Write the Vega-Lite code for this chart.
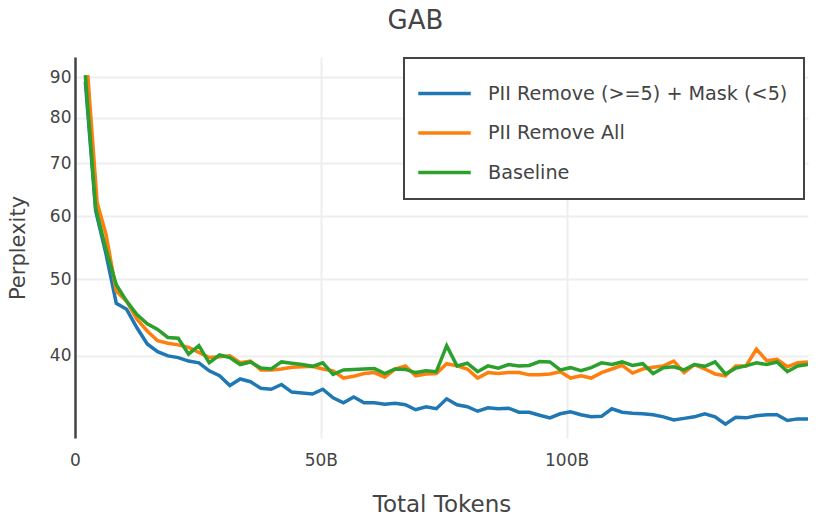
{
  "$schema": "https://vega.github.io/schema/vega-lite/v6.json",
  "autosize": {"type": "none"},
  "padding": {"left": 75, "top": 57, "right": 22, "bottom": 82},
  "width": 733,
  "height": 381,
  "background": "white",
  "title": {"text": "GAB", "fontSize": 26, "font": "DejaVu Sans", "fontWeight": "normal", "color": "#444", "frame": "group", "anchor": "middle", "dx": -26, "offset": 23},
  "data": {"values": [
    {"series": "PII Remove (>=5) + Mask (<5)", "tokens": 2.1, "ppl": 88.8},
    {"series": "PII Remove (>=5) + Mask (<5)", "tokens": 4.2, "ppl": 61.0},
    {"series": "PII Remove (>=5) + Mask (<5)", "tokens": 6.3, "ppl": 53.8},
    {"series": "PII Remove (>=5) + Mask (<5)", "tokens": 8.4, "ppl": 46.6},
    {"series": "PII Remove (>=5) + Mask (<5)", "tokens": 10.5, "ppl": 45.8},
    {"series": "PII Remove (>=5) + Mask (<5)", "tokens": 12.6, "ppl": 43.4},
    {"series": "PII Remove (>=5) + Mask (<5)", "tokens": 14.7, "ppl": 41.4},
    {"series": "PII Remove (>=5) + Mask (<5)", "tokens": 16.8, "ppl": 40.5},
    {"series": "PII Remove (>=5) + Mask (<5)", "tokens": 18.9, "ppl": 40.0},
    {"series": "PII Remove (>=5) + Mask (<5)", "tokens": 21.0, "ppl": 39.8},
    {"series": "PII Remove (>=5) + Mask (<5)", "tokens": 23.1, "ppl": 39.4},
    {"series": "PII Remove (>=5) + Mask (<5)", "tokens": 25.2, "ppl": 39.2},
    {"series": "PII Remove (>=5) + Mask (<5)", "tokens": 27.3, "ppl": 38.3},
    {"series": "PII Remove (>=5) + Mask (<5)", "tokens": 29.4, "ppl": 37.75},
    {"series": "PII Remove (>=5) + Mask (<5)", "tokens": 31.5, "ppl": 36.7},
    {"series": "PII Remove (>=5) + Mask (<5)", "tokens": 33.6, "ppl": 37.4},
    {"series": "PII Remove (>=5) + Mask (<5)", "tokens": 35.7, "ppl": 37.1},
    {"series": "PII Remove (>=5) + Mask (<5)", "tokens": 37.8, "ppl": 36.4},
    {"series": "PII Remove (>=5) + Mask (<5)", "tokens": 39.9, "ppl": 36.3},
    {"series": "PII Remove (>=5) + Mask (<5)", "tokens": 42.0, "ppl": 36.8},
    {"series": "PII Remove (>=5) + Mask (<5)", "tokens": 44.1, "ppl": 36.0},
    {"series": "PII Remove (>=5) + Mask (<5)", "tokens": 46.2, "ppl": 35.9},
    {"series": "PII Remove (>=5) + Mask (<5)", "tokens": 48.3, "ppl": 35.8},
    {"series": "PII Remove (>=5) + Mask (<5)", "tokens": 50.4, "ppl": 36.3},
    {"series": "PII Remove (>=5) + Mask (<5)", "tokens": 52.5, "ppl": 35.4},
    {"series": "PII Remove (>=5) + Mask (<5)", "tokens": 54.6, "ppl": 34.9},
    {"series": "PII Remove (>=5) + Mask (<5)", "tokens": 56.7, "ppl": 35.5},
    {"series": "PII Remove (>=5) + Mask (<5)", "tokens": 58.8, "ppl": 34.9},
    {"series": "PII Remove (>=5) + Mask (<5)", "tokens": 60.9, "ppl": 34.9},
    {"series": "PII Remove (>=5) + Mask (<5)", "tokens": 63.0, "ppl": 34.75},
    {"series": "PII Remove (>=5) + Mask (<5)", "tokens": 65.1, "ppl": 34.85},
    {"series": "PII Remove (>=5) + Mask (<5)", "tokens": 67.2, "ppl": 34.7},
    {"series": "PII Remove (>=5) + Mask (<5)", "tokens": 69.3, "ppl": 34.2},
    {"series": "PII Remove (>=5) + Mask (<5)", "tokens": 71.4, "ppl": 34.5},
    {"series": "PII Remove (>=5) + Mask (<5)", "tokens": 73.5, "ppl": 34.3},
    {"series": "PII Remove (>=5) + Mask (<5)", "tokens": 75.6, "ppl": 35.3},
    {"series": "PII Remove (>=5) + Mask (<5)", "tokens": 77.7, "ppl": 34.7},
    {"series": "PII Remove (>=5) + Mask (<5)", "tokens": 79.8, "ppl": 34.5},
    {"series": "PII Remove (>=5) + Mask (<5)", "tokens": 81.9, "ppl": 34.05},
    {"series": "PII Remove (>=5) + Mask (<5)", "tokens": 84.0, "ppl": 34.4},
    {"series": "PII Remove (>=5) + Mask (<5)", "tokens": 86.1, "ppl": 34.3},
    {"series": "PII Remove (>=5) + Mask (<5)", "tokens": 88.2, "ppl": 34.35},
    {"series": "PII Remove (>=5) + Mask (<5)", "tokens": 90.3, "ppl": 33.95},
    {"series": "PII Remove (>=5) + Mask (<5)", "tokens": 92.4, "ppl": 33.95},
    {"series": "PII Remove (>=5) + Mask (<5)", "tokens": 94.5, "ppl": 33.65},
    {"series": "PII Remove (>=5) + Mask (<5)", "tokens": 96.6, "ppl": 33.4},
    {"series": "PII Remove (>=5) + Mask (<5)", "tokens": 98.7, "ppl": 33.8},
    {"series": "PII Remove (>=5) + Mask (<5)", "tokens": 100.8, "ppl": 34.0},
    {"series": "PII Remove (>=5) + Mask (<5)", "tokens": 102.9, "ppl": 33.7},
    {"series": "PII Remove (>=5) + Mask (<5)", "tokens": 105.0, "ppl": 33.5},
    {"series": "PII Remove (>=5) + Mask (<5)", "tokens": 107.1, "ppl": 33.55},
    {"series": "PII Remove (>=5) + Mask (<5)", "tokens": 109.2, "ppl": 34.3},
    {"series": "PII Remove (>=5) + Mask (<5)", "tokens": 111.3, "ppl": 33.95},
    {"series": "PII Remove (>=5) + Mask (<5)", "tokens": 113.4, "ppl": 33.85},
    {"series": "PII Remove (>=5) + Mask (<5)", "tokens": 115.5, "ppl": 33.8},
    {"series": "PII Remove (>=5) + Mask (<5)", "tokens": 117.6, "ppl": 33.7},
    {"series": "PII Remove (>=5) + Mask (<5)", "tokens": 119.7, "ppl": 33.5},
    {"series": "PII Remove (>=5) + Mask (<5)", "tokens": 121.8, "ppl": 33.2},
    {"series": "PII Remove (>=5) + Mask (<5)", "tokens": 123.9, "ppl": 33.35},
    {"series": "PII Remove (>=5) + Mask (<5)", "tokens": 126.0, "ppl": 33.5},
    {"series": "PII Remove (>=5) + Mask (<5)", "tokens": 128.1, "ppl": 33.8},
    {"series": "PII Remove (>=5) + Mask (<5)", "tokens": 130.2, "ppl": 33.5},
    {"series": "PII Remove (>=5) + Mask (<5)", "tokens": 132.3, "ppl": 32.8},
    {"series": "PII Remove (>=5) + Mask (<5)", "tokens": 134.4, "ppl": 33.45},
    {"series": "PII Remove (>=5) + Mask (<5)", "tokens": 136.5, "ppl": 33.4},
    {"series": "PII Remove (>=5) + Mask (<5)", "tokens": 138.6, "ppl": 33.6},
    {"series": "PII Remove (>=5) + Mask (<5)", "tokens": 140.7, "ppl": 33.7},
    {"series": "PII Remove (>=5) + Mask (<5)", "tokens": 142.8, "ppl": 33.7},
    {"series": "PII Remove (>=5) + Mask (<5)", "tokens": 144.9, "ppl": 33.15},
    {"series": "PII Remove (>=5) + Mask (<5)", "tokens": 147.0, "ppl": 33.3},
    {"series": "PII Remove (>=5) + Mask (<5)", "tokens": 149.1, "ppl": 33.3},
    {"series": "PII Remove All", "tokens": 2.6, "ppl": 90.5},
    {"series": "PII Remove All", "tokens": 4.5, "ppl": 62.5},
    {"series": "PII Remove All", "tokens": 6.3, "ppl": 57.0},
    {"series": "PII Remove All", "tokens": 8.4, "ppl": 48.3},
    {"series": "PII Remove All", "tokens": 10.5, "ppl": 46.9},
    {"series": "PII Remove All", "tokens": 12.6, "ppl": 44.5},
    {"series": "PII Remove All", "tokens": 14.7, "ppl": 43.0},
    {"series": "PII Remove All", "tokens": 16.8, "ppl": 41.8},
    {"series": "PII Remove All", "tokens": 18.9, "ppl": 41.5},
    {"series": "PII Remove All", "tokens": 21.0, "ppl": 41.3},
    {"series": "PII Remove All", "tokens": 23.1, "ppl": 41.0},
    {"series": "PII Remove All", "tokens": 25.2, "ppl": 40.4},
    {"series": "PII Remove All", "tokens": 27.3, "ppl": 39.8},
    {"series": "PII Remove All", "tokens": 29.4, "ppl": 39.9},
    {"series": "PII Remove All", "tokens": 31.5, "ppl": 40.0},
    {"series": "PII Remove All", "tokens": 33.6, "ppl": 39.2},
    {"series": "PII Remove All", "tokens": 35.7, "ppl": 39.4},
    {"series": "PII Remove All", "tokens": 37.8, "ppl": 38.4},
    {"series": "PII Remove All", "tokens": 39.9, "ppl": 38.4},
    {"series": "PII Remove All", "tokens": 42.0, "ppl": 38.5},
    {"series": "PII Remove All", "tokens": 44.1, "ppl": 38.7},
    {"series": "PII Remove All", "tokens": 46.2, "ppl": 38.75},
    {"series": "PII Remove All", "tokens": 48.3, "ppl": 38.8},
    {"series": "PII Remove All", "tokens": 50.4, "ppl": 38.5},
    {"series": "PII Remove All", "tokens": 52.5, "ppl": 38.3},
    {"series": "PII Remove All", "tokens": 54.6, "ppl": 37.5},
    {"series": "PII Remove All", "tokens": 56.7, "ppl": 37.7},
    {"series": "PII Remove All", "tokens": 58.8, "ppl": 38.0},
    {"series": "PII Remove All", "tokens": 60.9, "ppl": 38.1},
    {"series": "PII Remove All", "tokens": 63.0, "ppl": 37.6},
    {"series": "PII Remove All", "tokens": 65.1, "ppl": 38.5},
    {"series": "PII Remove All", "tokens": 67.2, "ppl": 38.85},
    {"series": "PII Remove All", "tokens": 69.3, "ppl": 37.75},
    {"series": "PII Remove All", "tokens": 71.4, "ppl": 37.95},
    {"series": "PII Remove All", "tokens": 73.5, "ppl": 38.0},
    {"series": "PII Remove All", "tokens": 75.6, "ppl": 39.1},
    {"series": "PII Remove All", "tokens": 77.7, "ppl": 38.85},
    {"series": "PII Remove All", "tokens": 79.8, "ppl": 38.5},
    {"series": "PII Remove All", "tokens": 81.9, "ppl": 37.5},
    {"series": "PII Remove All", "tokens": 84.0, "ppl": 38.1},
    {"series": "PII Remove All", "tokens": 86.1, "ppl": 38.0},
    {"series": "PII Remove All", "tokens": 88.2, "ppl": 38.1},
    {"series": "PII Remove All", "tokens": 90.3, "ppl": 38.1},
    {"series": "PII Remove All", "tokens": 92.4, "ppl": 37.85},
    {"series": "PII Remove All", "tokens": 94.5, "ppl": 37.85},
    {"series": "PII Remove All", "tokens": 96.6, "ppl": 37.95},
    {"series": "PII Remove All", "tokens": 98.7, "ppl": 38.2},
    {"series": "PII Remove All", "tokens": 100.8, "ppl": 37.5},
    {"series": "PII Remove All", "tokens": 102.9, "ppl": 37.75},
    {"series": "PII Remove All", "tokens": 105.0, "ppl": 37.5},
    {"series": "PII Remove All", "tokens": 107.1, "ppl": 38.1},
    {"series": "PII Remove All", "tokens": 109.2, "ppl": 38.5},
    {"series": "PII Remove All", "tokens": 111.3, "ppl": 38.9},
    {"series": "PII Remove All", "tokens": 113.4, "ppl": 38.05},
    {"series": "PII Remove All", "tokens": 115.5, "ppl": 38.5},
    {"series": "PII Remove All", "tokens": 117.6, "ppl": 38.7},
    {"series": "PII Remove All", "tokens": 119.7, "ppl": 38.85},
    {"series": "PII Remove All", "tokens": 121.8, "ppl": 39.4},
    {"series": "PII Remove All", "tokens": 123.9, "ppl": 38.1},
    {"series": "PII Remove All", "tokens": 126.0, "ppl": 39.0},
    {"series": "PII Remove All", "tokens": 128.1, "ppl": 38.5},
    {"series": "PII Remove All", "tokens": 130.2, "ppl": 37.95},
    {"series": "PII Remove All", "tokens": 132.3, "ppl": 37.75},
    {"series": "PII Remove All", "tokens": 134.4, "ppl": 38.85},
    {"series": "PII Remove All", "tokens": 136.5, "ppl": 38.85},
    {"series": "PII Remove All", "tokens": 138.6, "ppl": 40.8},
    {"series": "PII Remove All", "tokens": 140.7, "ppl": 39.45},
    {"series": "PII Remove All", "tokens": 142.8, "ppl": 39.6},
    {"series": "PII Remove All", "tokens": 144.9, "ppl": 38.75},
    {"series": "PII Remove All", "tokens": 147.0, "ppl": 39.2},
    {"series": "PII Remove All", "tokens": 149.1, "ppl": 39.3},
    {"series": "Baseline", "tokens": 2.1, "ppl": 90.5},
    {"series": "Baseline", "tokens": 4.2, "ppl": 61.5},
    {"series": "Baseline", "tokens": 6.3, "ppl": 54.5},
    {"series": "Baseline", "tokens": 8.4, "ppl": 49.2},
    {"series": "Baseline", "tokens": 10.5, "ppl": 46.9},
    {"series": "Baseline", "tokens": 12.6, "ppl": 45.1},
    {"series": "Baseline", "tokens": 14.7, "ppl": 43.9},
    {"series": "Baseline", "tokens": 16.8, "ppl": 43.2},
    {"series": "Baseline", "tokens": 18.9, "ppl": 42.2},
    {"series": "Baseline", "tokens": 21.0, "ppl": 42.1},
    {"series": "Baseline", "tokens": 23.1, "ppl": 40.2},
    {"series": "Baseline", "tokens": 25.2, "ppl": 41.2},
    {"series": "Baseline", "tokens": 27.3, "ppl": 39.2},
    {"series": "Baseline", "tokens": 29.4, "ppl": 40.1},
    {"series": "Baseline", "tokens": 31.5, "ppl": 39.8},
    {"series": "Baseline", "tokens": 33.6, "ppl": 39.0},
    {"series": "Baseline", "tokens": 35.7, "ppl": 39.3},
    {"series": "Baseline", "tokens": 37.8, "ppl": 38.6},
    {"series": "Baseline", "tokens": 39.9, "ppl": 38.5},
    {"series": "Baseline", "tokens": 42.0, "ppl": 39.3},
    {"series": "Baseline", "tokens": 44.1, "ppl": 39.15},
    {"series": "Baseline", "tokens": 46.2, "ppl": 39.0},
    {"series": "Baseline", "tokens": 48.3, "ppl": 38.8},
    {"series": "Baseline", "tokens": 50.4, "ppl": 39.2},
    {"series": "Baseline", "tokens": 52.5, "ppl": 37.9},
    {"series": "Baseline", "tokens": 54.6, "ppl": 38.4},
    {"series": "Baseline", "tokens": 56.7, "ppl": 38.45},
    {"series": "Baseline", "tokens": 58.8, "ppl": 38.5},
    {"series": "Baseline", "tokens": 60.9, "ppl": 38.55},
    {"series": "Baseline", "tokens": 63.0, "ppl": 38.0},
    {"series": "Baseline", "tokens": 65.1, "ppl": 38.5},
    {"series": "Baseline", "tokens": 67.2, "ppl": 38.45},
    {"series": "Baseline", "tokens": 69.3, "ppl": 38.1},
    {"series": "Baseline", "tokens": 71.4, "ppl": 38.3},
    {"series": "Baseline", "tokens": 73.5, "ppl": 38.2},
    {"series": "Baseline", "tokens": 75.6, "ppl": 41.2},
    {"series": "Baseline", "tokens": 77.7, "ppl": 38.85},
    {"series": "Baseline", "tokens": 79.8, "ppl": 39.15},
    {"series": "Baseline", "tokens": 81.9, "ppl": 38.2},
    {"series": "Baseline", "tokens": 84.0, "ppl": 38.85},
    {"series": "Baseline", "tokens": 86.1, "ppl": 38.6},
    {"series": "Baseline", "tokens": 88.2, "ppl": 39.0},
    {"series": "Baseline", "tokens": 90.3, "ppl": 38.85},
    {"series": "Baseline", "tokens": 92.4, "ppl": 38.9},
    {"series": "Baseline", "tokens": 94.5, "ppl": 39.35},
    {"series": "Baseline", "tokens": 96.6, "ppl": 39.3},
    {"series": "Baseline", "tokens": 98.7, "ppl": 38.4},
    {"series": "Baseline", "tokens": 100.8, "ppl": 38.65},
    {"series": "Baseline", "tokens": 102.9, "ppl": 38.3},
    {"series": "Baseline", "tokens": 105.0, "ppl": 38.65},
    {"series": "Baseline", "tokens": 107.1, "ppl": 39.2},
    {"series": "Baseline", "tokens": 109.2, "ppl": 39.0},
    {"series": "Baseline", "tokens": 111.3, "ppl": 39.3},
    {"series": "Baseline", "tokens": 113.4, "ppl": 38.9},
    {"series": "Baseline", "tokens": 115.5, "ppl": 39.1},
    {"series": "Baseline", "tokens": 117.6, "ppl": 38.0},
    {"series": "Baseline", "tokens": 119.7, "ppl": 38.65},
    {"series": "Baseline", "tokens": 121.8, "ppl": 38.75},
    {"series": "Baseline", "tokens": 123.9, "ppl": 38.4},
    {"series": "Baseline", "tokens": 126.0, "ppl": 39.0},
    {"series": "Baseline", "tokens": 128.1, "ppl": 38.8},
    {"series": "Baseline", "tokens": 130.2, "ppl": 39.3},
    {"series": "Baseline", "tokens": 132.3, "ppl": 37.95},
    {"series": "Baseline", "tokens": 134.4, "ppl": 38.6},
    {"series": "Baseline", "tokens": 136.5, "ppl": 38.85},
    {"series": "Baseline", "tokens": 138.6, "ppl": 39.2},
    {"series": "Baseline", "tokens": 140.7, "ppl": 39.0},
    {"series": "Baseline", "tokens": 142.8, "ppl": 39.3},
    {"series": "Baseline", "tokens": 144.9, "ppl": 38.2},
    {"series": "Baseline", "tokens": 147.0, "ppl": 38.85},
    {"series": "Baseline", "tokens": 149.1, "ppl": 39.0}
  ]},
  "mark": {"type": "line", "strokeWidth": 3.5, "clip": true},
  "encoding": {
    "x": {
      "field": "tokens", "type": "quantitative",
      "scale": {"domain": [0, 149.1], "nice": false, "zero": false},
      "axis": {"values": [0, 50, 100], "labelExpr": "datum.value == 0 ? '0' : datum.value + 'B'", "title": "Total Tokens", "grid": true, "domain": false, "ticks": false, "labelFlush": false, "labelPadding": 14, "titlePadding": 25, "labelFontSize": 17, "titleFontSize": 23}
    },
    "y": {
      "field": "ppl", "type": "quantitative",
      "scale": {"type": "log", "domain": [31.5, 95.4], "nice": false},
      "axis": {"values": [40, 50, 60, 70, 80, 90], "title": "Perplexity", "grid": true, "domain": true, "domainColor": "#444", "domainWidth": 2.5, "ticks": false, "labelFlush": false, "labelPadding": 4, "titlePadding": 21, "labelFontSize": 17, "titleFontSize": 21}
    },
    "color": {
      "field": "series", "type": "nominal",
      "scale": {"domain": ["PII Remove (>=5) + Mask (<5)", "PII Remove All", "Baseline"], "range": ["#1f77b4", "#ff7f0e", "#2ca02c"]},
      "legend": {"title": null, "orient": "none", "legendX": 329, "legendY": 1}
    }
  },
  "config": {
    "view": {"stroke": null},
    "axis": {"labelFont": "DejaVu Sans", "titleFont": "DejaVu Sans", "labelColor": "#444", "titleColor": "#444", "titleFontWeight": "normal", "gridColor": "#eeeeee", "gridWidth": 2},
    "legend": {"symbolType": "M-1.5,0H1.5", "symbolSize": 1225, "symbolStrokeWidth": 3.5, "symbolOffset": 5, "labelFont": "DejaVu Sans", "labelFontSize": 19.2, "labelColor": "#444", "padding": 16, "rowPadding": 9.5, "labelOffset": 24, "strokeColor": "#444", "strokeWidth": 2, "fillColor": "white", "labelLimit": 0}
  }
}
